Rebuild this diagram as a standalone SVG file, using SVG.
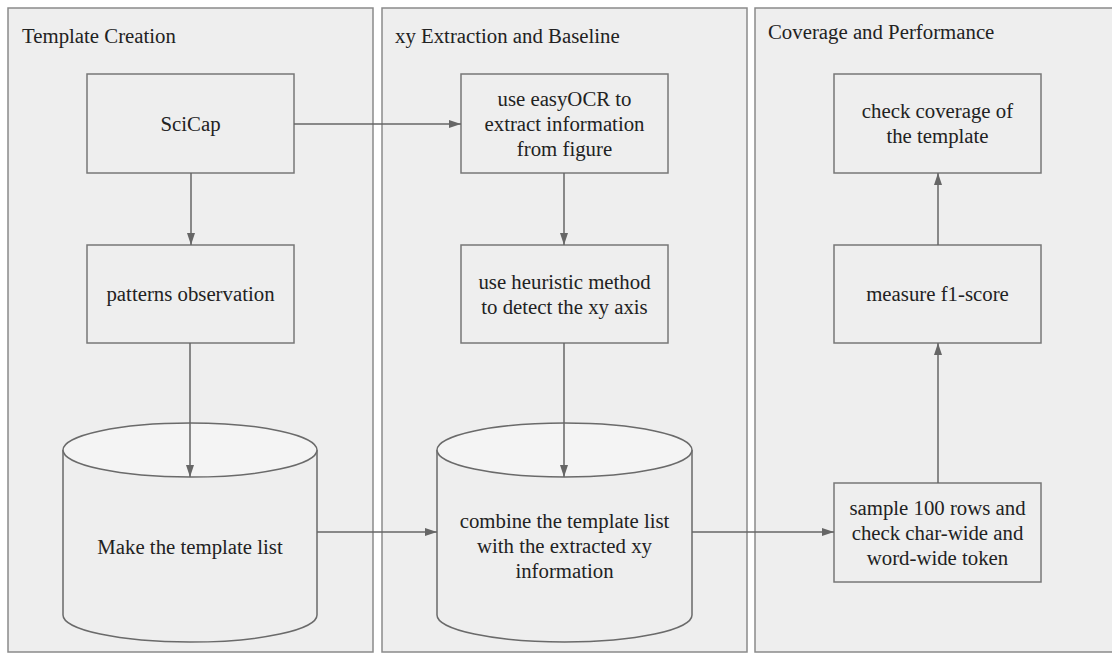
<svg xmlns="http://www.w3.org/2000/svg" width="1112" height="654" viewBox="0 0 1112 654">
<style>
.lane{fill:#eeeeee;stroke:#8a8a8a;stroke-width:1.5}
.box{fill:#eeeeee;stroke:#777777;stroke-width:1.5}
.cyl{fill:#eeeeee;stroke:#6a6a6a;stroke-width:1.5}
.top{fill:#f4f4f4;stroke:#6a6a6a;stroke-width:1.5}
text{font-family:'Liberation Serif','Times New Roman','DejaVu Serif',serif;font-size:20.8px;fill:#222222}
.c{text-anchor:middle}
.edge{fill:none;stroke:#666666;stroke-width:1.5;marker-end:url(#ah)}
</style>
<defs>
<marker id="ah" viewBox="0 0 12 8" refX="12" refY="4" markerWidth="12" markerHeight="8" markerUnits="userSpaceOnUse" orient="auto">
<path d="M0,0 L12,4 L0,8 z" fill="#666666"/>
</marker>
</defs>
<rect width="1112" height="654" fill="#ffffff"/>
<g id="lane-template-creation">
<rect class="lane" x="8" y="8" width="365" height="644"/>
<text font-family="Liberation Serif, serif" x="22" y="43">Template Creation</text>
</g>
<g id="lane-xy-extraction">
<rect class="lane" x="382" y="8" width="365" height="644"/>
<text font-family="Liberation Serif, serif" x="395" y="43">xy Extraction and Baseline</text>
</g>
<g id="lane-coverage">
<rect class="lane" x="755" y="8" width="370" height="644"/>
<text font-family="Liberation Serif, serif" x="768" y="39">Coverage and Performance</text>
</g>
<g id="node-scicap">
<rect class="box" x="87" y="74" width="207" height="99"/>
<text font-family="Liberation Serif, serif" class="c" x="190.5" y="131">SciCap</text>
</g>
<g id="node-patterns">
<rect class="box" x="87" y="245" width="207" height="98"/>
<text font-family="Liberation Serif, serif" class="c" x="190.5" y="301">patterns observation</text>
</g>
<g id="node-template-list">
<path class="cyl" d="M63,450 L63,615 A127,27 0 0 0 317,615 L317,450"/>
<ellipse class="top" cx="190" cy="450" rx="127" ry="27"/>
<text font-family="Liberation Serif, serif" class="c" x="190" y="554">Make the template list</text>
</g>
<g id="node-easyocr">
<rect class="box" x="461" y="74" width="207" height="99"/>
<text font-family="Liberation Serif, serif" class="c" x="564.5" y="106">use easyOCR to</text>
<text font-family="Liberation Serif, serif" class="c" x="564.5" y="131">extract information</text>
<text font-family="Liberation Serif, serif" class="c" x="564.5" y="156">from figure</text>
</g>
<g id="node-heuristic">
<rect class="box" x="461" y="245" width="207" height="98"/>
<text font-family="Liberation Serif, serif" class="c" x="564.5" y="289">use heuristic method</text>
<text font-family="Liberation Serif, serif" class="c" x="564.5" y="314">to detect the xy axis</text>
</g>
<g id="node-combine">
<path class="cyl" d="M437,450 L437,615 A127.5,27 0 0 0 692,615 L692,450"/>
<ellipse class="top" cx="564.5" cy="450" rx="127.5" ry="27"/>
<text font-family="Liberation Serif, serif" class="c" x="564.5" y="528">combine the template list</text>
<text font-family="Liberation Serif, serif" class="c" x="564.5" y="553">with the extracted xy</text>
<text font-family="Liberation Serif, serif" class="c" x="564.5" y="578">information</text>
</g>
<g id="node-coverage">
<rect class="box" x="834" y="74" width="207" height="99"/>
<text font-family="Liberation Serif, serif" class="c" x="937.5" y="118">check coverage of</text>
<text font-family="Liberation Serif, serif" class="c" x="937.5" y="143">the template</text>
</g>
<g id="node-f1">
<rect class="box" x="834" y="245" width="207" height="98"/>
<text font-family="Liberation Serif, serif" class="c" x="937.5" y="301">measure f1-score</text>
</g>
<g id="node-sample">
<rect class="box" x="834" y="483" width="207" height="99"/>
<text font-family="Liberation Serif, serif" class="c" x="937.5" y="515">sample 100 rows and</text>
<text font-family="Liberation Serif, serif" class="c" x="937.5" y="540">check char-wide and</text>
<text font-family="Liberation Serif, serif" class="c" x="937.5" y="565">word-wide token</text>
</g>
<g id="connectors">
<line class="edge" x1="294" y1="124" x2="461" y2="124"/>
<line class="edge" x1="191" y1="173" x2="191" y2="245"/>
<line class="edge" x1="190" y1="343" x2="190" y2="477"/>
<line class="edge" x1="564" y1="173" x2="564" y2="245"/>
<line class="edge" x1="564" y1="343" x2="564" y2="477"/>
<line class="edge" x1="317" y1="532" x2="437" y2="532"/>
<line class="edge" x1="692" y1="532" x2="834" y2="532"/>
<line class="edge" x1="938" y1="483" x2="938" y2="343"/>
<line class="edge" x1="938" y1="245" x2="938" y2="173"/>
</g>
</svg>
